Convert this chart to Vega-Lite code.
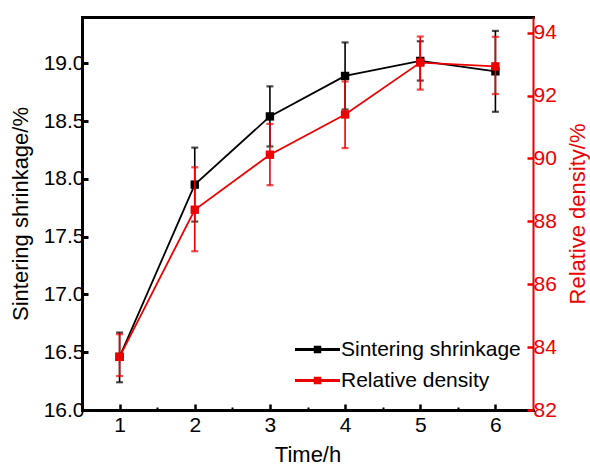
{
  "$schema": "https://vega.github.io/schema/vega-lite/v6.json",
  "width": 451,
  "height": 393,
  "autosize": {"type": "none"},
  "padding": {"left": 82, "top": 17, "right": 57, "bottom": 57},
  "background": "white",
  "config": {
    "font": "Liberation Sans",
    "view": {"stroke": null},
    "axis": {
      "labelFont": "Liberation Sans",
      "titleFont": "Liberation Sans",
      "labelFontSize": 21,
      "titleFontSize": 22,
      "titleFontWeight": "normal",
      "grid": false
    }
  },
  "data": {
    "values": [
      {"t": 1, "series": "Sintering shrinkage", "v": 16.46, "lo": 16.24, "hi": 16.67},
      {"t": 2, "series": "Sintering shrinkage", "v": 17.95, "lo": 17.63, "hi": 18.27},
      {"t": 3, "series": "Sintering shrinkage", "v": 18.54, "lo": 18.28, "hi": 18.80},
      {"t": 4, "series": "Sintering shrinkage", "v": 18.89, "lo": 18.60, "hi": 19.18},
      {"t": 5, "series": "Sintering shrinkage", "v": 19.02, "lo": 18.85, "hi": 19.19},
      {"t": 6, "series": "Sintering shrinkage", "v": 18.93, "lo": 18.58, "hi": 19.28},
      {"t": 1, "series": "Relative density", "v": 83.69, "lo": 83.08, "hi": 84.41},
      {"t": 2, "series": "Relative density", "v": 88.37, "lo": 87.05, "hi": 89.72},
      {"t": 3, "series": "Relative density", "v": 90.12, "lo": 89.15, "hi": 91.10},
      {"t": 4, "series": "Relative density", "v": 91.40, "lo": 90.33, "hi": 92.45},
      {"t": 5, "series": "Relative density", "v": 93.05, "lo": 92.19, "hi": 93.88},
      {"t": 6, "series": "Relative density", "v": 92.93, "lo": 92.05, "hi": 93.87}
    ]
  },
  "layer": [
    {
      "transform": [{"filter": "datum.series === 'Sintering shrinkage'"}],
      "encoding": {
        "x": {
          "field": "t", "type": "quantitative",
          "scale": {"domain": [0.5, 6.5], "nice": false, "zero": false},
          "axis": {
            "orient": "bottom",
            "title": "Time/h",
            "values": [1, 1.5, 2, 2.5, 3, 3.5, 4, 4.5, 5, 5.5, 6],
            "labelExpr": "datum.value % 1 === 0 ? datum.value : ''",
            "tickSize": {"condition": {"test": "datum.value % 1 !== 0", "value": -3}, "value": -6},
            "tickWidth": {"condition": {"test": "datum.value % 1 !== 0", "value": 2}, "value": 2.5},
            "tickColor": "black",
            "domainColor": "black",
            "domainWidth": 3,
            "domainCap": "square",
            "labelColor": "black",
            "titleColor": "black",
            "labelPadding": 10,
            "titlePadding": 9
          }
        }
      },
      "layer": [
        {
          "mark": {"type": "rule", "color": "black", "strokeWidth": 1.6},
          "encoding": {
            "y": {"field": "lo", "type": "quantitative", "title": "Sintering shrinkage/%"},
            "y2": {"field": "hi"}
          }
        },
        {
          "mark": {"type": "tick", "orient": "horizontal", "color": "black", "size": 7, "thickness": 2.2},
          "encoding": {"y": {"field": "lo", "type": "quantitative", "title": "Sintering shrinkage/%"}}
        },
        {
          "mark": {"type": "tick", "orient": "horizontal", "color": "black", "size": 7, "thickness": 2.2},
          "encoding": {"y": {"field": "hi", "type": "quantitative", "title": "Sintering shrinkage/%"}}
        },
        {
          "mark": {"type": "line", "color": "black", "strokeWidth": 1.8},
          "encoding": {"y": {"field": "v", "type": "quantitative", "title": "Sintering shrinkage/%"}}
        },
        {
          "mark": {"type": "point", "shape": "square", "filled": true, "size": 70, "opacity": 1},
          "encoding": {
            "y": {
              "field": "v", "type": "quantitative",
              "title": "Sintering shrinkage/%",
              "scale": {"domain": [16, 19.4], "nice": false, "zero": false},
              "axis": {
                "orient": "left",
                "values": [16, 16.25, 16.5, 16.75, 17, 17.25, 17.5, 17.75, 18, 18.25, 18.5, 18.75, 19, 19.25],
                "labelExpr": "datum.value % 0.5 === 0 ? format(datum.value, '.1f') : ''",
                "tickSize": {"condition": {"test": "datum.value % 0.5 !== 0", "value": -3}, "value": -6},
                "tickWidth": {"condition": {"test": "datum.value % 0.5 !== 0", "value": 2}, "value": 3},
                "tickColor": "black",
                "domainColor": "black",
                "domainWidth": 3,
                "domainCap": "square",
                "labelColor": "black",
                "titleColor": "black",
                "labelPadding": 4,
                "titlePadding": 11
              }
            },
            "color": {
              "field": "series", "type": "nominal",
              "scale": {"domain": ["Sintering shrinkage", "Relative density"], "range": ["black", "#ec0000"]},
              "legend": {
                "orient": "none",
                "legendX": 225,
                "legendY": 322,
                "title": null,
                "padding": 0,
                "symbolType": "M-3,-0.2H-0.5V-0.5H0.5V-0.2H3V0.2H0.5V0.5H-0.5V0.2H-3Z",
                "symbolSize": 225,
                "symbolStrokeWidth": 0,
                "labelFont": "Liberation Sans",
                "labelFontSize": 21,
                "labelOffset": 13,
                "labelLimit": 400,
                "rowPadding": 9,
                "encode": {
                  "labels": {"update": {"fill": {"signal": "scale('color', datum.value)"}}},
                  "symbols": {"update": {
                    "fill": {"signal": "scale('color', datum.value)"},
                    "opacity": {"value": 1},
                    "fillOpacity": {"value": 1}
                  }}
                }
              }
            }
          }
        }
      ]
    },
    {
      "transform": [{"filter": "datum.series === 'Relative density'"}],
      "encoding": {
        "x": {
          "field": "t", "type": "quantitative",
          "scale": {"domain": [0.5, 6.5], "nice": false, "zero": false},
          "axis": {
            "orient": "top",
            "title": null,
            "labels": false,
            "ticks": false,
            "domainColor": "black",
            "domainWidth": 3,
            "domainCap": "square"
          }
        }
      },
      "layer": [
        {
          "mark": {"type": "rule", "color": "#ec0000", "strokeWidth": 1.6},
          "encoding": {
            "y": {"field": "lo", "type": "quantitative", "title": "Relative density/%"},
            "y2": {"field": "hi"}
          }
        },
        {
          "mark": {"type": "tick", "orient": "horizontal", "color": "#ec0000", "size": 7, "thickness": 2.2},
          "encoding": {"y": {"field": "lo", "type": "quantitative", "title": "Relative density/%"}}
        },
        {
          "mark": {"type": "tick", "orient": "horizontal", "color": "#ec0000", "size": 7, "thickness": 2.2},
          "encoding": {"y": {"field": "hi", "type": "quantitative", "title": "Relative density/%"}}
        },
        {
          "mark": {"type": "line", "color": "#ec0000", "strokeWidth": 1.8},
          "encoding": {"y": {"field": "v", "type": "quantitative", "title": "Relative density/%"}}
        },
        {
          "mark": {"type": "point", "shape": "square", "filled": true, "size": 70, "opacity": 1},
          "encoding": {
            "y": {
              "field": "v", "type": "quantitative",
              "title": "Relative density/%",
              "scale": {"domain": [82, 94.5], "nice": false, "zero": false},
              "axis": {
                "orient": "right",
                "values": [82, 83, 84, 85, 86, 87, 88, 89, 90, 91, 92, 93, 94],
                "labelExpr": "datum.value % 2 === 0 ? datum.value : ''",
                "tickSize": {"condition": {"test": "datum.value % 2 !== 0", "value": -3}, "value": -6},
                "tickWidth": {"condition": {"test": "datum.value % 2 !== 0", "value": 2}, "value": 2.5},
                "tickColor": "#ec0000",
                "domainColor": "#ec0000",
                "domainWidth": 2,
                "labelColor": "#ec0000",
                "titleColor": "#ec0000",
                "titleAngle": 270,
                "titleBaseline": "top",
                "labelPadding": 6,
                "titlePadding": 11
              }
            },
            "color": {"field": "series", "type": "nominal"}
          }
        }
      ]
    }
  ],
  "resolve": {"scale": {"y": "independent"}, "axis": {"x": "independent"}}
}
